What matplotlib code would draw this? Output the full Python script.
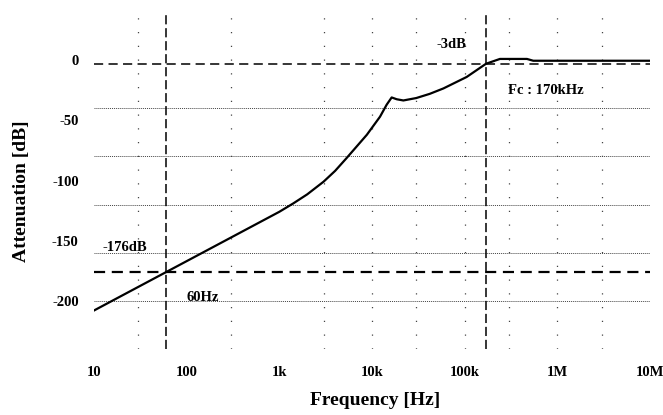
import numpy as np
import matplotlib
matplotlib.use("Agg")
import matplotlib.pyplot as plt

plt.rcParams['font.family'] = ['Liberation Serif', 'DejaVu Serif']
plt.rcParams['font.weight'] = 'bold'

# measured attenuation of the filter
freq = [10, 100, 1000, 1416, 2000, 3000, 4000, 5300, 8800, 12200, 14400,
        16300, 18500, 21800, 30000, 42000, 59000, 105000, 170000, 240000,
        470000, 550000, 1e6, 1e7]
atten = [-208, -167, -126, -119, -111.5, -101, -92, -81.5, -62, -47, -37,
         -31, -32.5, -33.5, -31.5, -28, -23.5, -14, -3, 1,
         1, -0.5, -0.5, -0.5]

yticks = [0, -50, -100, -150, -200]
xticks = [10, 100, 1e3, 1e4, 1e5, 1e6, 1e7]
xtick_labels = ['10', '100', '1k', '10k', '100k', '1M', '10M']
hgrid = [-40, -80, -120, -160, -200, -240]
vgrid = [30, 300, 3e3, 1e4, 3e4, 1e5, 3e5, 1e6, 3e6]

f_line = 60          # mains frequency
a_line = -176        # attenuation at 60 Hz
fc = 170e3           # cut-off
a_fc = -3

fig = plt.figure(figsize=(6.63, 4.15), dpi=100)
ax = fig.add_axes([94 / 663, 1 - 349 / 415, 556 / 663, 337 / 415])
ax.set_xscale('log')
ax.set_xlim(10, 1e7)
ax.set_ylim(-240, 40)

for s in ax.spines.values():
    s.set_visible(False)

# grid
for g in hgrid:
    ax.axhline(g, color='#444444', lw=0.7, ls=(0, (1, 1)), zorder=1)
for g in vgrid:
    ax.axvline(g, color='#444444', lw=0.9, ls=(0, (1, 10)), zorder=1)

# reference lines
ax.axhline(a_fc, color='black', lw=1.1, ls=(0, (6, 3.5)), zorder=2)
ax.axhline(a_line, color='black', lw=1.6, ls=(0, (5, 3)), zorder=2)
ax.axvline(f_line, color='black', lw=1.1, ls=(0, (6, 2.5)), zorder=2)
ax.axvline(fc, color='black', lw=1.1, ls=(0, (6, 2.5)), zorder=2)

ax.plot(freq, atten, color='black', lw=1.6, zorder=3)

ax.set_yticks(yticks)
ax.set_yticklabels([str(v) for v in yticks])
ax.set_xticks(xticks)
ax.set_xticklabels(xtick_labels)
ax.minorticks_off()
ax.tick_params(axis='both', length=0, labelsize=10.5)
ax.tick_params(axis='y', pad=11)
ax.tick_params(axis='x', pad=12)

ax.text(12.2, -156, '-176dB', fontsize=10.5, va='center', ha='left')
ax.text(100, -197, '60Hz', fontsize=10.5, va='center', ha='left')
ax.text(50e3, 12.6, '-3dB', fontsize=10.5, va='center', ha='left')
ax.text(292e3, -25, 'Fc : 170kHz', fontsize=10.5, va='center', ha='left')

fig.text(375 / 663, 1 - 400 / 415, 'Frequency [Hz]', fontsize=14,
         fontweight='bold', ha='center', va='center')
fig.text(22 / 663, 1 - 191 / 415, 'Attenuation [dB]', fontsize=14,
         fontweight='bold', rotation=90, ha='center', va='center')

fig.savefig('out.png', dpi=100)
